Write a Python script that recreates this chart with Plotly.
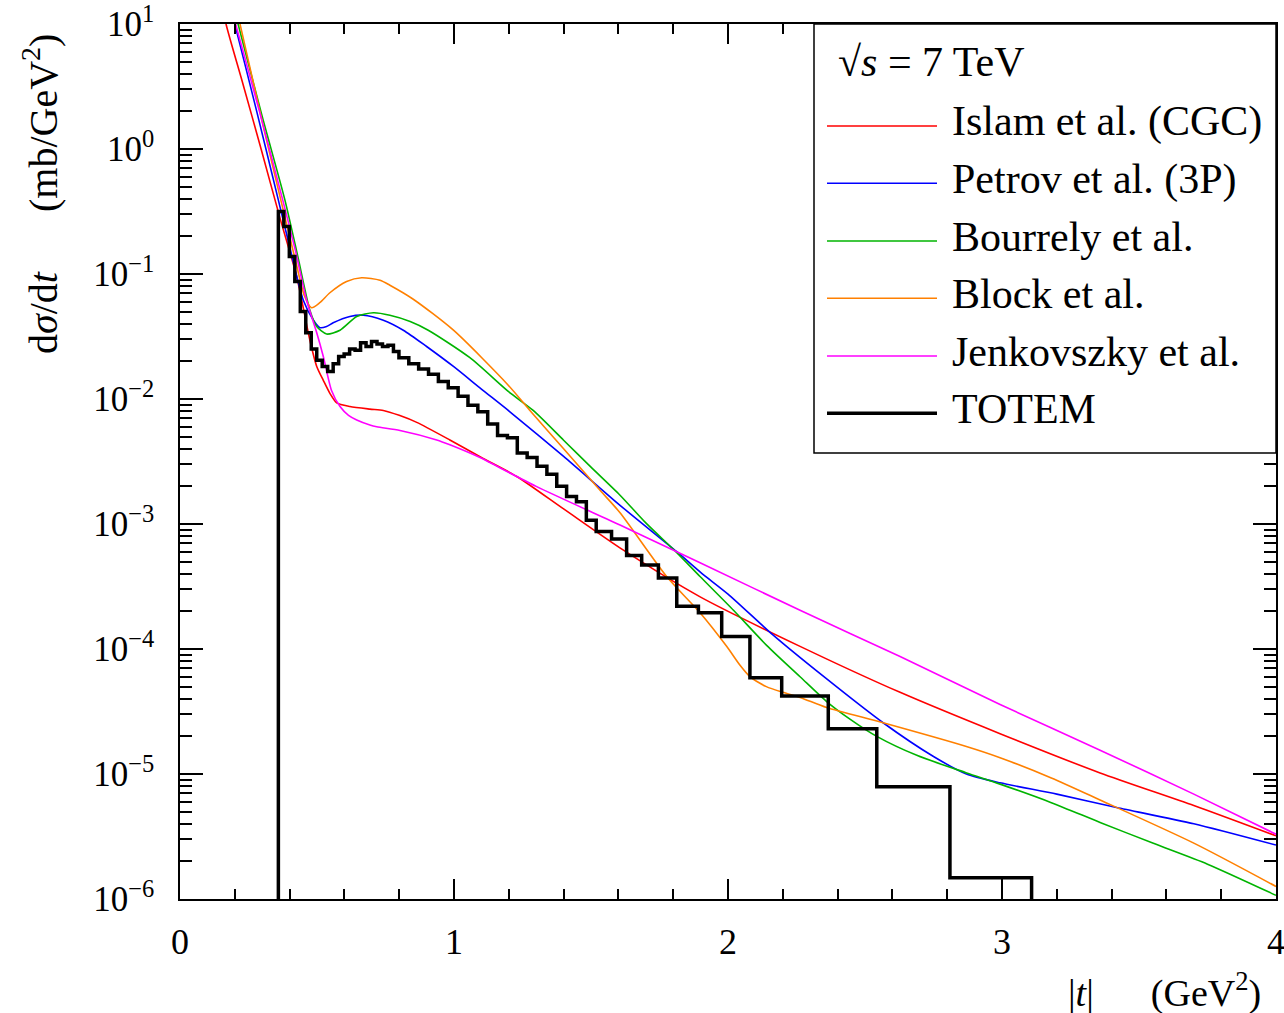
import plotly.graph_objects as go

# ---------------- data ----------------
islam_t = [0.16, 0.168, 0.23, 0.296, 0.365, 0.426, 0.474, 0.499, 0.523, 0.548, 0.572, 0.62, 0.693,
           0.742, 0.80, 0.864, 0.985, 1.1, 1.229, 1.4, 1.617, 1.9, 2.263, 2.628, 2.993, 3.358, 3.7, 4.0]
islam_y = [12.6, 10, 3.3, 1.0, 0.28, 0.095, 0.0295, 0.0182, 0.0141, 0.011, 0.0093, 0.0087, 0.0083,
           0.0081, 0.0074, 0.0065, 0.0047, 0.0034, 0.0024, 0.00132, 6.2e-4, 2.6e-4, 1.05e-4, 4.5e-5,
           2.1e-5, 1.02e-5, 5.6e-6, 3.2e-6]

petrov_t = [0.192, 0.20, 0.28, 0.359, 0.40, 0.45, 0.487, 0.511, 0.535, 0.559, 0.62, 0.669, 0.742,
            0.815, 0.90, 0.998, 1.1, 1.204, 1.4, 1.606, 1.813, 1.9, 2.0, 2.165, 2.35, 2.566, 2.75,
            2.87, 2.993, 3.2, 3.418, 3.7, 4.0]
petrov_y = [11.7, 10, 2.0, 0.39, 0.166, 0.0617, 0.0427, 0.0372, 0.038, 0.0407, 0.0457, 0.0468, 0.0427,
            0.0355, 0.0263, 0.0182, 0.0120, 0.0079, 0.00347, 0.00141, 6.0e-4, 4.1e-4, 2.75e-4, 1.29e-4,
            6.0e-5, 2.57e-5, 1.38e-5, 1.0e-5, 8.5e-6, 6.9e-6, 5.4e-6, 4.0e-6, 2.7e-6]

bourrely_t = [0.205, 0.212, 0.30, 0.383, 0.43, 0.474, 0.499, 0.535, 0.584, 0.645, 0.706, 0.766, 0.84,
              0.906, 1.058, 1.198, 1.289, 1.40, 1.50, 1.606, 1.70, 1.813, 1.898, 2.02, 2.141, 2.263,
              2.36, 2.445, 2.543, 2.689, 2.871, 2.993, 3.18, 3.358, 3.55, 3.75, 4.0]
bourrely_y = [11.5, 10, 1.82, 0.39, 0.138, 0.0513, 0.038, 0.0331, 0.0355, 0.0457, 0.049, 0.0468, 0.0417,
              0.0355, 0.0214, 0.0115, 0.0081, 0.00468, 0.00285, 0.0017, 0.00102, 5.9e-4, 3.8e-4, 2.04e-4,
              1.07e-4, 6.0e-5, 3.8e-5, 2.75e-5, 2.0e-5, 1.41e-5, 1.02e-5, 8.3e-6, 5.9e-6, 4.1e-6, 2.8e-6,
              1.9e-6, 1.07e-6]

block_t = [0.212, 0.219, 0.30, 0.368, 0.42, 0.455, 0.480, 0.51, 0.547, 0.608, 0.663, 0.73, 0.766, 0.85,
           0.998, 1.198, 1.277, 1.4, 1.533, 1.606, 1.776, 1.898, 1.995, 2.044, 2.08, 2.14, 2.2, 2.263,
           2.36, 2.566, 2.87, 2.993, 3.18, 3.358, 3.7, 4.0]
block_y = [11.5, 10, 1.66, 0.39, 0.132, 0.066, 0.0537, 0.0589, 0.0708, 0.0871, 0.0933, 0.0891, 0.0813,
           0.0631, 0.0355, 0.0129, 0.0081, 0.0040, 0.00186, 0.00123, 3.8e-4, 1.95e-4, 1.05e-4, 7.4e-5,
           6.0e-5, 5.0e-5, 4.5e-5, 4.1e-5, 3.4e-5, 2.57e-5, 1.66e-5, 1.35e-5, 9.3e-6, 6.2e-6, 2.8e-6, 1.26e-6]

jenk_t = [0.196, 0.203, 0.29, 0.375, 0.42, 0.462, 0.499, 0.523, 0.553, 0.584, 0.615, 0.645, 0.693, 0.718,
          0.803, 0.937, 0.985, 1.095, 1.131, 1.3, 1.606, 1.813, 1.898, 2.263, 2.628, 2.993, 3.358, 3.7, 4.0]
jenk_y = [11.5, 10, 2.0, 0.39, 0.158, 0.0617, 0.0339, 0.0219, 0.0117, 0.0087, 0.0074, 0.0068, 0.0062,
          0.0060, 0.0056, 0.0047, 0.0043, 0.0034, 0.0031, 0.0020, 9.8e-4, 6.0e-4, 4.9e-4, 2.04e-4, 8.7e-5,
          3.6e-5, 1.55e-5, 6.9e-6, 3.3e-6]

# TOTEM histogram: bin left edges, contents, and last right edge
totem_edges = [0.359, 0.379, 0.399, 0.419, 0.439, 0.459, 0.479, 0.499, 0.519, 0.539, 0.559, 0.579,
               0.599, 0.619, 0.639, 0.659, 0.679, 0.699, 0.719, 0.739, 0.759, 0.779,
               0.799, 0.835, 0.871, 0.907, 0.943, 0.979, 1.015, 1.051, 1.087, 1.123, 1.159, 1.195,
               1.231, 1.267, 1.303, 1.339, 1.375, 1.411, 1.447, 1.483, 1.519,
               1.575, 1.630, 1.685, 1.746, 1.813, 1.892, 1.977, 2.080, 2.196, 2.366, 2.543, 2.810]
totem_vals = [0.316, 0.240, 0.138, 0.0871, 0.0501, 0.0339, 0.0251, 0.0204, 0.0182, 0.0166, 0.0191, 0.0219,
              0.0229, 0.0251, 0.0245, 0.0282, 0.0263, 0.0288, 0.0275, 0.0263, 0.0269, 0.0240,
              0.0214, 0.0191, 0.0174, 0.0158, 0.0138, 0.0123, 0.0105, 0.0089, 0.0079, 0.0063, 0.0051,
              0.0049, 0.0037, 0.0034, 0.0029, 0.0025, 0.0020, 0.00166, 0.00151, 0.00107, 8.7e-4,
              7.6e-4, 5.6e-4, 4.7e-4, 3.7e-4, 2.2e-4, 1.95e-4, 1.26e-4, 5.9e-5, 4.2e-5, 2.3e-5,
              7.9e-6, 1.48e-6]
totem_end = 3.108

models = [
    ("Islam et al. (CGC)", islam_t, islam_y, "#ff0000"),
    ("Petrov et al. (3P)", petrov_t, petrov_y, "#0000ff"),
    ("Bourrely et al.", bourrely_t, bourrely_y, "#00b400"),
    ("Block et al.", block_t, block_y, "#ff8000"),
    ("Jenkovszky et al.", jenk_t, jenk_y, "#ff00ff"),
]

FONT = "Liberation Serif"
fig = go.Figure()

for name, t, y, c in models:
    fig.add_trace(go.Scatter(x=t, y=y, mode="lines", name=name,
                             line=dict(color=c, width=1.6, shape="spline", smoothing=0.7),
                             showlegend=False))

floor = 1e-9
tx = [totem_edges[0]] + totem_edges + [totem_end]
ty = [floor] + totem_vals + [floor]
fig.add_trace(go.Scatter(x=tx, y=ty, mode="lines", name="TOTEM",
                         line=dict(color="black", width=3.5, shape="hv"), showlegend=False))

# ---------------- axes ----------------
fig.update_xaxes(range=[0, 4], tickvals=[0, 1, 2, 3, 4], ticks="inside", ticklen=20, tickwidth=1.5,
                 tickcolor="black", showline=True, linecolor="black", linewidth=1.5, mirror="allticks",
                 showgrid=False, zeroline=False, ticklabelstandoff=10, automargin=False,
                 ticklabeloverflow="allow",
                 tickfont=dict(family=FONT, size=36, color="black"),
                 minor=dict(dtick=0.2, ticks="inside", ticklen=10, tickwidth=1.5, tickcolor="black",
                            showgrid=False))
ypow = [1, 0, -1, -2, -3, -4, -5, -6]
fig.update_yaxes(type="log", range=[-6, 1], tickvals=[10.0 ** p for p in ypow],
                 ticktext=["10<sup>%s</sup>" % (str(p).replace("-", "\u2212")) for p in ypow],
                 ticks="inside", ticklen=23, tickwidth=1.5, tickcolor="black",
                 showline=True, linecolor="black", linewidth=1.5, mirror="allticks",
                 showgrid=False, zeroline=False, ticklabelstandoff=17, automargin=False,
                 ticklabeloverflow="allow",
                 tickfont=dict(family=FONT, size=35, color="black"),
                 minor=dict(dtick="D1", ticks="inside", ticklen=12, tickwidth=1.5, tickcolor="black",
                            showgrid=False))

# ---------------- manual legend ----------------
def px2x(px):
    return (px - 180) / 1096.0

def py2y(py):
    return (899 - py) / 875.0

shapes = [dict(type="rect", xref="paper", yref="paper", x0=px2x(814), x1=1.0, y0=py2y(453), y1=1.0,
               line=dict(color="black", width=1.5), fillcolor="white", layer="above")]
annotations = [dict(xref="paper", yref="paper", x=px2x(836), y=py2y(62), xanchor="left", yanchor="middle",
                    text="\u221a<i>s</i> = 7 TeV", showarrow=False,
                    font=dict(family=FONT, size=42, color="black"))]
entries = [(n, c, 1.6) for n, _, _, c in models] + [("TOTEM", "black", 3.5)]
leg_py = [126, 183.3, 241, 298.3, 356, 413.3]
for (n, c, w), py in zip(entries, leg_py):
    shapes.append(dict(type="line", xref="paper", yref="paper", x0=px2x(827), x1=px2x(937),
                       y0=py2y(py), y1=py2y(py), line=dict(color=c, width=w), layer="above"))
    annotations.append(dict(xref="paper", yref="paper", x=px2x(950), y=py2y(py - 4), xanchor="left",
                            yanchor="middle", text=n, showarrow=False,
                            font=dict(family=FONT, size=42, color="black")))

# axis titles
annotations.append(dict(xref="paper", yref="paper", x=px2x(40), y=py2y(194), xanchor="center",
                        yanchor="middle", textangle=-90, showarrow=False,
                        text="d<i>\u03c3</i>/d<i>t</i>\u2003\u2002(mb/GeV<sup>2</sup>)",
                        font=dict(family=FONT, size=40, color="black")))
annotations.append(dict(xref="paper", yref="paper", x=px2x(1164), y=py2y(990), xanchor="center",
                        yanchor="middle", showarrow=False,
                        text="|<i>t</i>|\u2003\u2002(GeV<sup>2</sup>)",
                        font=dict(family=FONT, size=38, color="black")))

fig.update_layout(width=1284, height=1013, margin=dict(l=180, r=8, t=24, b=114),
                  paper_bgcolor="white", plot_bgcolor="white", shapes=shapes, annotations=annotations,
                  showlegend=False)

fig.write_html("out.html")
